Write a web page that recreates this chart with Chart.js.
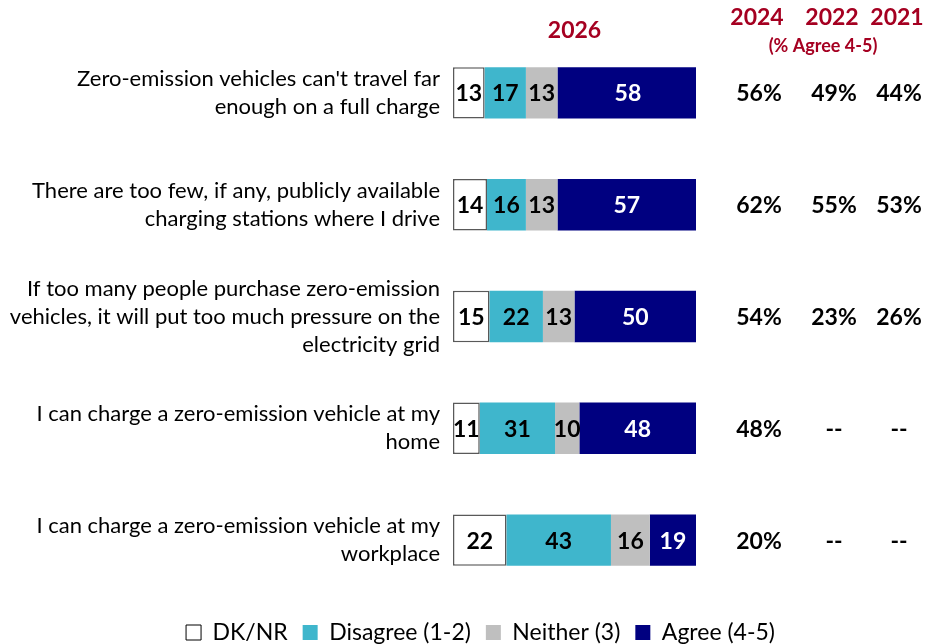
<!DOCTYPE html>
<html><head><meta charset="utf-8">
<script src="https://cdn.jsdelivr.net/npm/chart.js@4"></script>
<style>html,body{margin:0;padding:0;background:#fff}#wrap{width:927px;height:644px}</style>
</head><body><div id="wrap"><canvas id="c" width="927" height="644"></canvas></div>
<script>
const categories = [
  ["Zero-emission vehicles can't travel far", "enough on a full charge"],
  ["There are too few, if any, publicly available", "charging stations where I drive"],
  ["If too many people purchase zero-emission", "vehicles, it will put too much pressure on the", "electricity grid"],
  ["I can charge a zero-emission vehicle at my", "home"],
  ["I can charge a zero-emission vehicle at my", "workplace"]
];
const dknr     = [13, 14, 15, 11, 22];
const disagree = [17, 16, 22, 31, 43];
const neither  = [13, 13, 13, 10, 16];
const agree    = [58, 57, 50, 48, 19];
const yearHeaders = ["2024", "2022", "2021"];
const agree2024 = ["56%", "62%", "54%", "48%", "20%"];
const agree2022 = ["49%", "55%", "23%", "--", "--"];
const agree2021 = ["44%", "53%", "26%", "--", "--"];
const mainHeader = "2026";
const subHeader = "(% Agree 4-5)";

const FONT = "Lato, 'Open Sans', sans-serif";
const RED = "#A50021";

const labelPlugin = {
  id: 'labels',
  afterLayout(chart) {
    const lg = chart.legend;
    if (lg) { lg.left += 17; lg.right += 17; lg.top += 10; lg.bottom += 10; }
  },
  afterDatasetsDraw(chart) {
    const ctx = chart.ctx;
    ctx.save();
    ctx.textBaseline = 'middle';
    ctx.textAlign = 'center';
    ctx.font = "bold 23px " + FONT;
    chart.data.datasets.forEach((ds, di) => {
      const meta = chart.getDatasetMeta(di);
      meta.data.forEach((bar, i) => {
        ctx.fillStyle = di === 3 ? '#fff' : '#000';
        const x = (bar.x + bar.base) / 2;
        ctx.fillText(String(ds.data[i]), x, bar.y + 1);
      });
    });
    const ca = chart.chartArea;
    const ys = chart.scales.y;
    const cols = [agree2024, agree2022, agree2021];
    const offs = [63, 138, 203];
    ctx.fillStyle = '#000';
    cols.forEach((col, ci) => {
      col.forEach((t, i) => {
        ctx.fillText(t, ca.right + offs[ci], ys.getPixelForValue(i) + 1);
      });
    });
    ctx.fillStyle = RED;
    ctx.font = "bold 23px " + FONT;
    ctx.fillText(mainHeader, (ca.left + ca.right) / 2, 31);
    yearHeaders.forEach((h, ci) => {
      ctx.fillText(h, ca.right + offs[ci] - 2, 18);
    });
    ctx.font = "bold 18px " + FONT;
    ctx.fillText(subHeader, ca.right + 127, 46);
    ctx.restore();
  }
};

new Chart(document.getElementById('c'), {
  type: 'bar',
  data: {
    labels: categories,
    datasets: [
      { label: 'DK/NR', data: dknr, backgroundColor: '#ffffff', borderColor: '#595959', borderWidth: 1.5, borderSkipped: false },
      { label: 'Disagree (1-2)', data: disagree, backgroundColor: '#3FB6CC', borderWidth: 0 },
      { label: 'Neither (3)', data: neither, backgroundColor: '#BFBFBF', borderWidth: 0 },
      { label: 'Agree (4-5)', data: agree, backgroundColor: '#000080', borderWidth: 0 }
    ]
  },
  options: {
    indexAxis: 'y',
    responsive: false,
    animation: false,
    devicePixelRatio: 1,
    layout: { padding: { left: 0, right: 0, top: 37, bottom: 0 } },
    datasets: { bar: { categoryPercentage: 0.46, barPercentage: 1 } },
    scales: {
      x: { stacked: true, min: 0, max: 100, display: false },
      y: {
        stacked: true,
        grid: { display: false, drawTicks: false },
        border: { display: false },
        ticks: { color: '#000', font: { family: FONT, size: 22, lineHeight: 1.27 }, padding: 13, autoSkip: false },
        afterFit(s) { s.width = 453; s.paddingTop = 0; s.paddingBottom = 0; }
      },
      yR: {
        position: 'right',
        grid: { display: false, drawTicks: false },
        border: { display: false },
        ticks: { display: false },
        afterFit(s) { s.width = 231; s.paddingTop = 0; s.paddingBottom = 0; }
      }
    },
    plugins: {
      legend: {
        position: 'bottom',
        labels: {
          color: '#000',
          font: { family: FONT, size: 23 },
          boxWidth: 15, boxHeight: 15, padding: 15,
          generateLabels(chart) {
            return chart.data.datasets.map((ds, i) => ({
              text: ds.label, fillStyle: ds.backgroundColor,
              strokeStyle: i === 0 ? '#000' : ds.backgroundColor,
              lineWidth: i === 0 ? 1 : 0, datasetIndex: i, hidden: false, fontColor: '#000'
            }));
          }
        }
      },
      tooltip: { enabled: false }
    }
  },
  plugins: [labelPlugin]
});
</script></body></html>
